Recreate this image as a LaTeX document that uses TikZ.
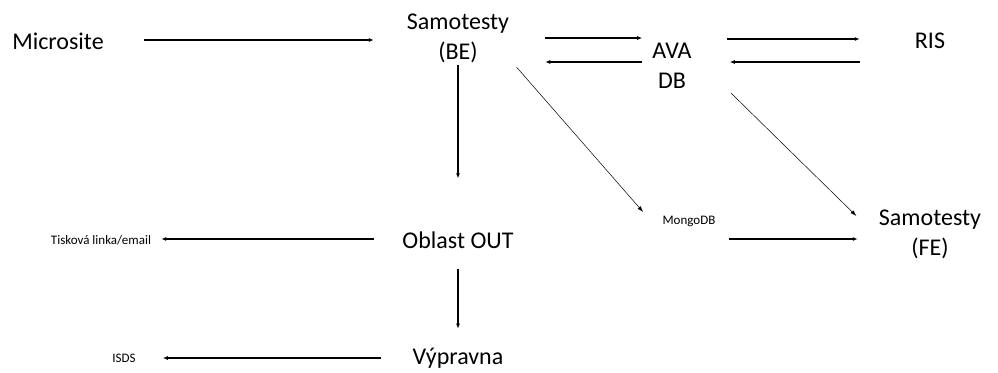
\documentclass[tikz,border=0pt]{standalone}
\usepackage{fontspec}
\setmainfont{Carlito}
\usetikzlibrary{arrows.meta}
\begin{document}
\begin{tikzpicture}[x=1pt,y=-1pt,
  big/.style={font=\fontsize{24}{30}\selectfont, align=center, inner sep=0pt},
  small/.style={font=\fontsize{13}{15}\selectfont, inner sep=0pt},
  arr/.style={-{Latex[length=5pt,width=4pt]}, line width=1.1pt},
  arrthin/.style={-{Latex[length=6pt,width=4pt]}, line width=0.5pt}]
\useasboundingbox[fill=white] (0,0) rectangle (998,372);
\node[big] (micro) at (58,41) {Microsite};
\node[big] (be) at (458,38) {Samotesty\\(BE)};
\node[big] (ava) at (672,66) {AVA\\DB};
\node[big] (ris) at (930,41) {RIS};
\node[big] (fe) at (930,234) {Samotesty\\(FE)};
\node[small] (mongo) at (689,221) {MongoDB};
\node[big] (oblast) at (458,240) {Oblast OUT};
\node[big] (vyp) at (458,358) {Výpravna};
\node[small] (tisk) at (101,240) {Tisková linka/email};
\node[small] (isds) at (124,358) {ISDS};
% arrows
\draw[arr, shorten <=40pt, shorten >=33pt] ([yshift=1pt]micro.east) -- ([yshift=1pt]micro.east -| be.west);
\draw[arr, shorten <=36pt, shorten >=10pt] (be.east) -- (be.east -| ava.west);
\draw[arr, line width=1.6pt, shorten <=10pt, shorten >=36pt] ([yshift=4pt]ava.west) -- ([yshift=4pt]ava.west -| be.east);
\draw[arr, shorten <=35pt, shorten >=55pt] ([yshift=2pt]ris.west -| ava.east) -- ([yshift=2pt]ris.west);
\draw[arr, line width=1.6pt, shorten <=55pt, shorten >=38pt] ([yshift=-21pt]ris.west) -- ([yshift=-21pt]ris.west -| ava.east);
\draw[arr, shorten <=2pt, shorten >=53pt] (be.south) -- (oblast.north);
\draw[arr, shorten <=20pt, shorten >=19pt] (oblast.south) -- (vyp.north);
\draw[arr, shorten <=28pt, shorten >=10pt] ([yshift=1pt]oblast.west) -- ([yshift=1pt]oblast.west -| tisk.east);
\draw[arr, shorten <=32pt, shorten >=27pt] (vyp.west) -- (vyp.west -| isds.east);
\draw[arr, line width=1.6pt, shorten <=13pt, shorten >=21pt] ([yshift=-18pt]mongo.east) -- ([yshift=-18pt]mongo.east -| fe.west);
\draw[arrthin, shorten <=2pt, shorten >=2pt] ([xshift=6pt,yshift=-3pt]be.south east) -- ([xshift=-18pt,yshift=2pt]mongo.north west);
\draw[arrthin, shorten <=2pt, shorten >=2pt] ([xshift=38pt,yshift=-3pt]ava.south east) -- ([xshift=-21pt,yshift=-8pt]fe.north west);
\end{tikzpicture}
\end{document}
